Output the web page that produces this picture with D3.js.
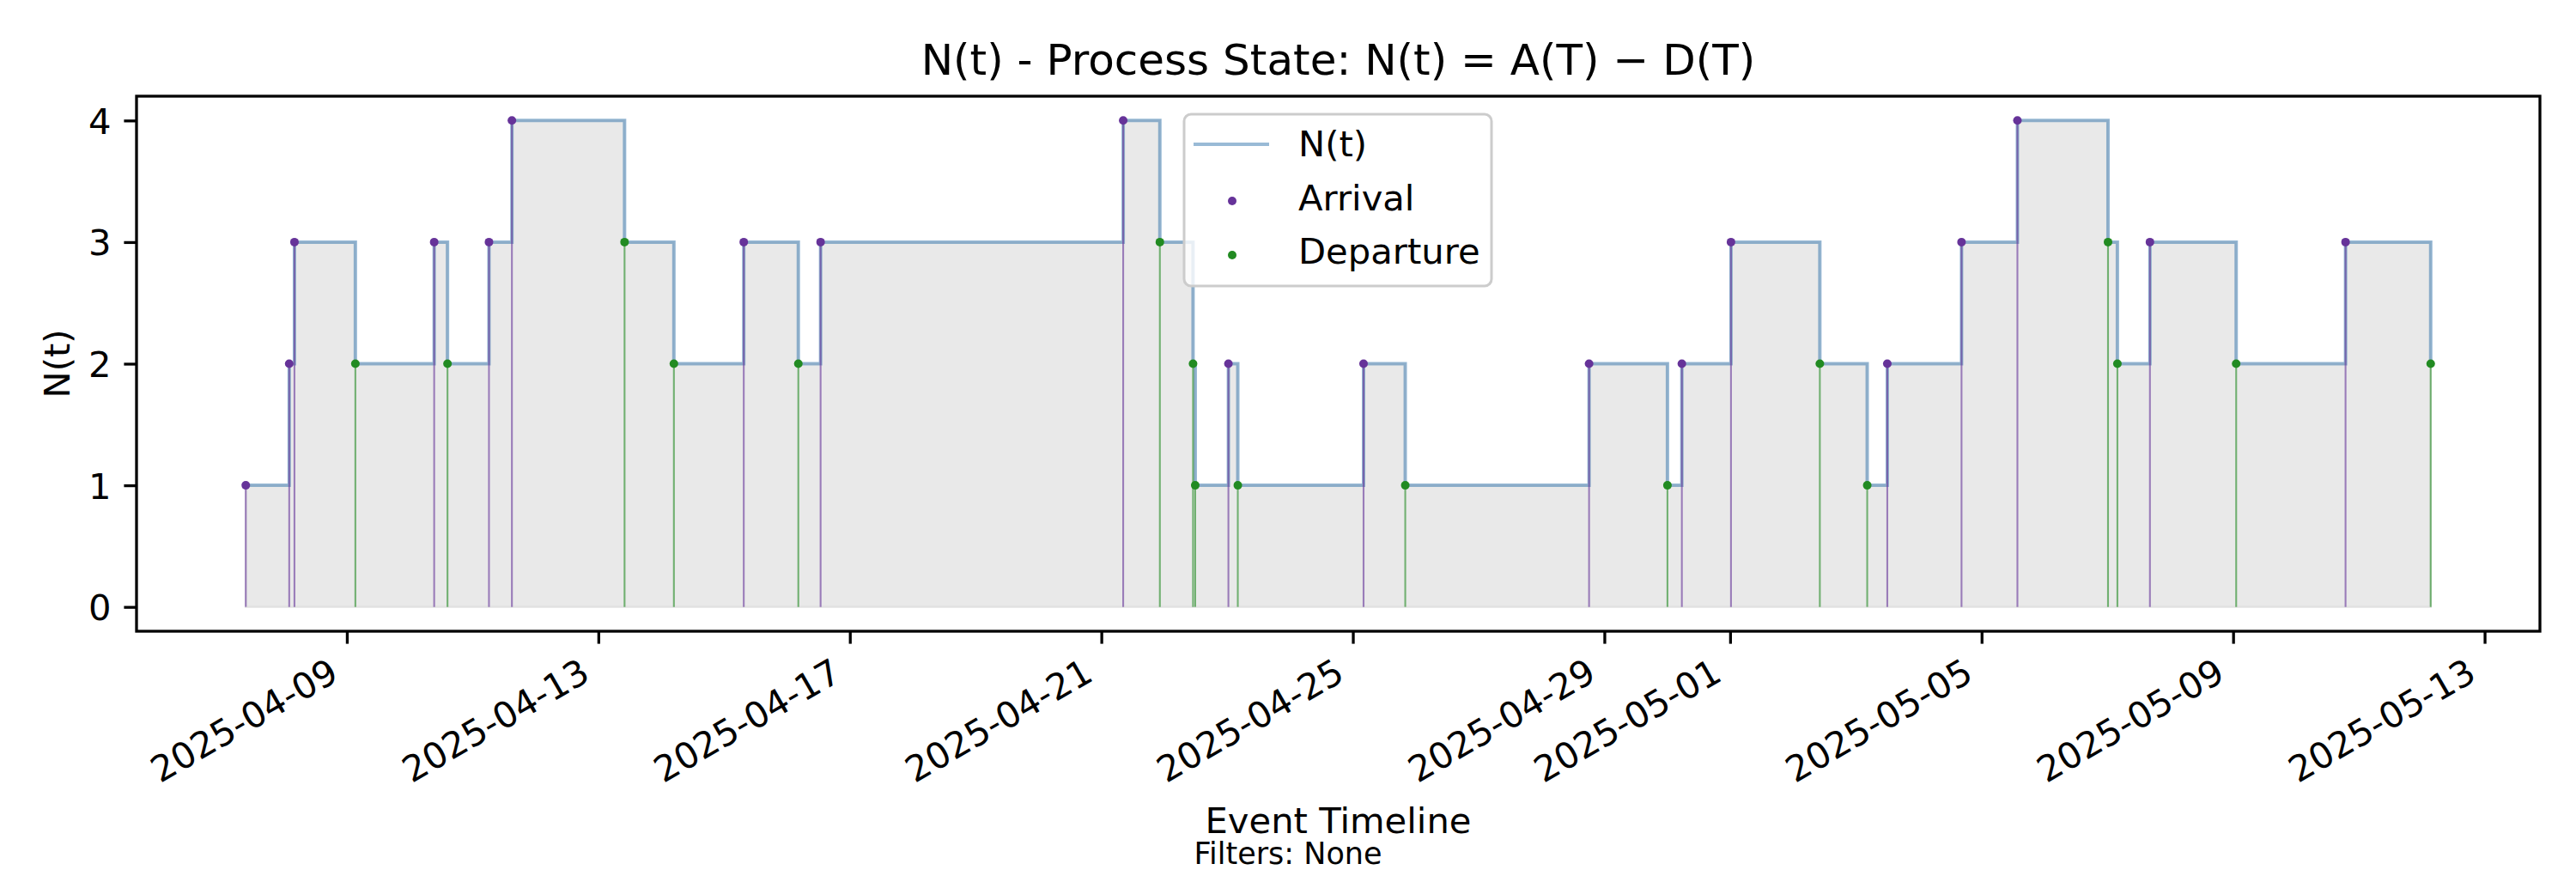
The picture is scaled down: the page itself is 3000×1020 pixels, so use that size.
<!DOCTYPE html>
<html>
<head>
<meta charset="utf-8">
<script src="https://cdn.jsdelivr.net/npm/d3@7"></script>
<style>
  body { margin: 0; background: #fff; }
  text { font-family: "DejaVu Sans", sans-serif; fill: #000; }
</style>
</head>
<body>
<svg id="chart" width="3000" height="1020"></svg>
<script>
// events, in order
const eventTimes = [
    "2025-04-07T09:25", "2025-04-08T02:00", "2025-04-08T04:00", "2025-04-09T03:15",
    "2025-04-10T09:20", "2025-04-10T14:25", "2025-04-11T06:15", "2025-04-11T15:00",
    "2025-04-13T10:00", "2025-04-14T04:50", "2025-04-15T07:30", "2025-04-16T04:20",
    "2025-04-16T12:50", "2025-04-21T08:20", "2025-04-21T22:20", "2025-04-22T11:00",
    "2025-04-22T11:50", "2025-04-23T00:30", "2025-04-23T04:05", "2025-04-25T04:05",
    "2025-04-25T20:00", "2025-04-28T18:10", "2025-04-30T00:05", "2025-04-30T05:35",
    "2025-05-01T00:20", "2025-05-02T10:15", "2025-05-03T04:20", "2025-05-03T12:00",
    "2025-05-04T16:20", "2025-05-05T13:40", "2025-05-07T00:15", "2025-05-07T03:50",
    "2025-05-07T16:15", "2025-05-09T01:10", "2025-05-10T18:55", "2025-05-12T03:25"
];
const eventKinds = [
    "A", "A", "A", "D", "A", "D", "A", "A", "D", "D", "A", "D",
    "A", "A", "D", "D", "D", "A", "D", "A", "D", "A", "D", "A",
    "A", "D", "D", "A", "A", "A", "D", "D", "A", "D", "A", "D"
];
const nValues = [
    1, 2, 3, 2, 3, 2, 3, 4, 3, 2, 3, 2,
    3, 4, 3, 2, 1, 2, 1, 2, 1, 2, 1, 2,
    3, 2, 1, 2, 3, 4, 3, 2, 3, 2, 3, 2
];
const xTickLabels = [
    "2025-04-09", "2025-04-13", "2025-04-17", "2025-04-21", "2025-04-25",
    "2025-04-29", "2025-05-01", "2025-05-05", "2025-05-09", "2025-05-13"
];
const yTicks = [0, 1, 2, 3, 4];

const parse = d3.utcParse("%Y-%m-%dT%H:%M");
const parseDay = d3.utcParse("%Y-%m-%d");

const events = eventTimes.map((t, i) => ({ t: parse(t), kind: eventKinds[i], n: nValues[i] }));

// axes box in pixels
const box = { left: 159, right: 2958, top: 112, bottom: 735 };

const ext = d3.extent(events, d => d.t);
const pad = (ext[1] - ext[0]) * 0.05;
const x = d3.scaleUtc()
    .domain([new Date(+ext[0] - pad), new Date(+ext[1] + pad)])
    .range([box.left, box.right]);
const y = d3.scaleLinear().domain([-0.2, 4.2]).range([box.bottom, box.top]);

const svg = d3.select("#chart");
const colA = "#663399", colD = "#228b22", colLine = "steelblue";

// grey area under the step
const area = d3.area()
    .curve(d3.curveStepAfter)
    .x(d => x(d.t))
    .y0(y(0))
    .y1(d => y(d.n));
svg.append("path")
    .datum(events)
    .attr("d", area)
    .attr("fill", "lightgray")
    .attr("fill-opacity", 0.5)
    .attr("stroke", "lightgray")
    .attr("stroke-opacity", 0.5)
    .attr("stroke-width", 2.5);

// the N(t) step line
const line = d3.line()
    .curve(d3.curveStepAfter)
    .x(d => x(d.t))
    .y(d => y(d.n));
svg.append("path")
    .datum(events)
    .attr("d", line)
    .attr("fill", "none")
    .attr("stroke", colLine)
    .attr("stroke-opacity", 0.55)
    .attr("stroke-width", 4);

// stems from zero
svg.append("g").selectAll("line")
    .data(events)
    .enter().append("line")
    .attr("x1", d => x(d.t))
    .attr("x2", d => x(d.t))
    .attr("y1", y(0))
    .attr("y2", d => y(d.n))
    .attr("stroke", d => d.kind == "A" ? colA : colD)
    .attr("stroke-opacity", 0.6)
    .attr("stroke-width", 2.1);

// event dots
svg.append("g").selectAll("circle")
    .data(events)
    .enter().append("circle")
    .attr("cx", d => x(d.t))
    .attr("cy", d => y(d.n))
    .attr("r", 5)
    .attr("fill", d => d.kind == "A" ? colA : colD);

// x axis
const xAxis = svg.append("g")
    .attr("transform", "translate(0," + box.bottom + ")")
    .call(d3.axisBottom(x)
        .tickValues(xTickLabels.map(parseDay))
        .tickSize(14.6)
        .tickSizeOuter(0)
        .tickFormat(d3.utcFormat("%Y-%m-%d")));
xAxis.select(".domain").remove();
xAxis.selectAll(".tick line").attr("stroke", "#000").attr("stroke-width", 3.3);
xAxis.selectAll(".tick text")
    .attr("y", null).attr("dy", null)
    .attr("font-size", 41.7)
    .attr("text-anchor", "end")
    .attr("transform", "translate(-8,56) rotate(-30)");

// y axis
const yAxis = svg.append("g")
    .attr("transform", "translate(" + box.left + ",0)")
    .call(d3.axisLeft(y)
        .tickValues(yTicks)
        .tickSize(14.6)
        .tickSizeOuter(0)
        .tickPadding(15)
        .tickFormat(d3.format("d")));
yAxis.select(".domain").remove();
yAxis.selectAll(".tick line").attr("stroke", "#000").attr("stroke-width", 3.3);
yAxis.selectAll(".tick text")
    .attr("font-size", 41.7)
    .attr("dy", "0.36em");

// frame
svg.append("rect")
    .attr("x", box.left).attr("y", box.top)
    .attr("width", box.right - box.left).attr("height", box.bottom - box.top)
    .attr("fill", "none")
    .attr("stroke", "#000")
    .attr("stroke-width", 3.3);

// texts
const midX = (box.left + box.right) / 2;
svg.append("text")
    .attr("x", midX).attr("y", 87)
    .attr("text-anchor", "middle")
    .attr("font-size", 50)
    .text("N(t) - Process State: N(t) = A(T) \u2212 D(T)");
svg.append("text")
    .attr("x", midX).attr("y", 970)
    .attr("text-anchor", "middle")
    .attr("font-size", 41.7)
    .text("Event Timeline");
svg.append("text")
    .attr("x", 1500).attr("y", 1006)
    .attr("text-anchor", "middle")
    .attr("font-size", 35)
    .text("Filters: None");
svg.append("text")
    .attr("transform", "translate(81," + ((box.top + box.bottom) / 2) + ") rotate(-90)")
    .attr("text-anchor", "middle")
    .attr("font-size", 41.7)
    .text("N(t)");

// legend
const lg = svg.append("g").attr("transform", "translate(1379,133)");
lg.append("rect")
    .attr("width", 358).attr("height", 200)
    .attr("rx", 8)
    .attr("fill", "#fff").attr("fill-opacity", 0.8)
    .attr("stroke", "#cccccc").attr("stroke-width", 3);
lg.append("line")
    .attr("x1", 11).attr("x2", 99).attr("y1", 35).attr("y2", 35)
    .attr("stroke", colLine).attr("stroke-opacity", 0.55).attr("stroke-width", 4);
lg.append("circle").attr("cx", 56).attr("cy", 101).attr("r", 5).attr("fill", colA);
lg.append("circle").attr("cx", 56).attr("cy", 164).attr("r", 5).attr("fill", colD);
[["N(t)", 49], ["Arrival", 112], ["Departure", 174]].forEach(r => {
    lg.append("text")
        .attr("x", 133).attr("y", r[1])
        .attr("font-size", 41.7)
        .text(r[0]);
});
</script>
</body>
</html>
